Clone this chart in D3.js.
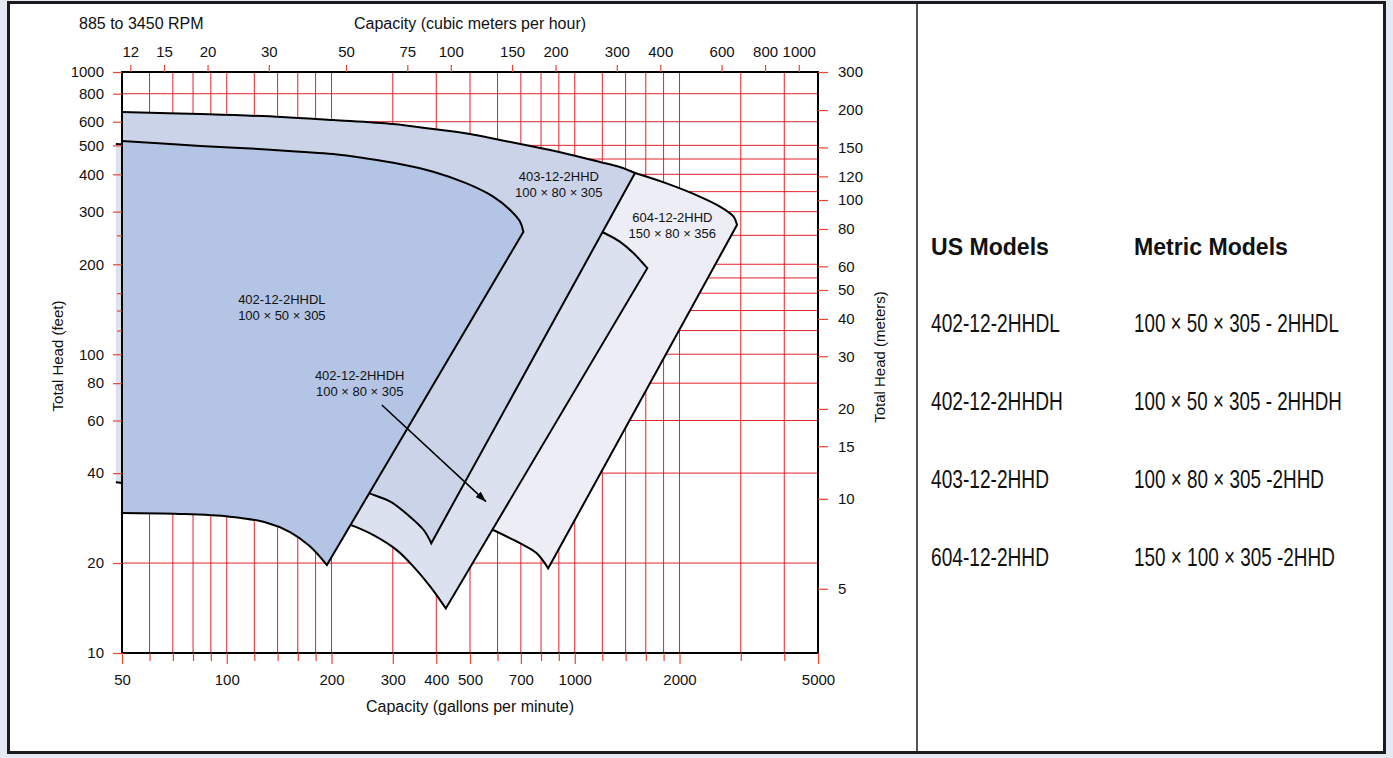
<!DOCTYPE html>
<html><head><meta charset="utf-8">
<script src="https://cdn.jsdelivr.net/npm/d3@7"></script>
<style>
html,body{margin:0;padding:0;background:#e4e9f3;}
svg{display:block;font-family:"Liberation Sans",Arial,Helvetica,sans-serif;}
</style></head><body>
<svg id="c" width="1393" height="758"></svg>
<script>
// ---------------- DATA ----------------
// x gridlines / ticks (gallons per minute)
const gpmGrid   = [60,70,80,90,100,120,140,160,180,200,300,400,500,600,700,800,900,1000,1200,1400,1600,1800,2000,3000,4000];
const gpmLabels = [50,100,200,300,400,500,700,1000,2000,5000];
// top axis (cubic meters per hour)
const m3hLabels = [12,15,20,30,50,75,100,150,200,300,400,600,800,1000];
// left axis (feet)
const ftLabels     = [1000,800,600,500,400,300,200,100,80,60,40,20,10];
const ftGrid       = [800,600,500,450,400,350,300,250,200,180,160,140,120,100,80,60,40,20];
const ftMinorTicks = [250,160,140,120];
// right axis (meters)
const mLabels = [300,200,150,120,100,80,60,50,40,30,20,15,10,5];

// performance envelopes: [gpm, feet]
const top402L    = [[50,517],[84,498],[117,488],[162,476],[202,468],[252,452],[314,433],[392,408],[489,373],[583,337],[652,304],[696,278],[712,257]];
const bottom402L = [[50,29.4],[73,29.2],[102,28.6],[129,27.4],[152,25.4],[173,22.8],[194,19.7]];

const top403     = [[50,663],[84,649],[144,630],[202,610],[300,589],[392,567],[500,546],[610,521],[795,490],[952,468],[1181,440],[1347,423],[1490,404]];
const bottom403  = [[50,51.6],[166,41.3],[257,34.2],[295,32.1],[336,28.6],[368,25.8],[387,23.3]];

const top402H    = [[48,505],[314,414],[908,292],[1220,254],[1347,238],[1474,218],[1616,194]];
const bottom402H = [[48,37.3],[84,34.6],[162,31.3],[228,26.8],[264,24.8],[308,22.1],[344,19.45],[384,16.7],[426,14.1]];

const top604     = [[1490,404],[1836,373],[2286,337],[2614,312],[2858,289],[2927,271]];
const bottom604  = [[583,25.8],[696,23.3],[776,21.6],[839,19.2]];
const hidden604  = [[696,130]];

// in-chart labels: [gpm, feet] anchor
const label402L = [144,152];
const label403  = [900,392];
const label604  = [1907,287];
const label402H = [241,85];
const arrow402H = [[279,67.6],[556,32.1]];

const usModels     = ["402-12-2HHDL","402-12-2HHDH","403-12-2HHD","604-12-2HHD"];
const metricModels = ["100 × 50 × 305 - 2HHDL","100 × 50 × 305 - 2HHDH","100 × 80 × 305 -2HHD","150 × 100 × 305 -2HHD"];

// ---------------- LAYOUT ----------------
const P = {l:122, t:72, r:818, b:653};
const GPM_PER_M3H = 4.4029, FT_PER_M = 3.2808;
const FT_TOP = 880, FT_BREAK = 600;
const gridColor = "#e4222b", tickColor = "#e8472f";
const FONT = '"Liberation Sans", Arial, Helvetica, sans-serif';
const NARROW = '"Liberation Sans Narrow","Arial Narrow","Liberation Sans",Arial,sans-serif';

const svg = d3.select("#c");

// frame
svg.append("rect").attr("x",8.5).attr("y",2.5).attr("width",1376).attr("height",750)
  .attr("fill","#fff").attr("stroke","#1c1c1c").attr("stroke-width",3);
svg.append("line").attr("x1",917).attr("x2",917).attr("y1",4).attr("y2",751)
  .attr("stroke","#555").attr("stroke-width",2);

// scales (the printed feet axis is compressed above 600 ft: piecewise log)
const x  = d3.scaleLog().domain([50,5000]).range([P.l,P.r]);
const yBase = d3.scaleLog().domain([10,FT_TOP]).range([P.b,P.t]);
const y  = d3.scaleLog().domain([10,FT_BREAK,1000]).range([P.b,yBase(FT_BREAK),P.t]).clamp(true);
const xm = d3.scaleLog().domain([50/GPM_PER_M3H,5000/GPM_PER_M3H]).range([P.l,P.r]);
const ym = d3.scaleLog().domain([10/FT_PER_M,FT_TOP/FT_PER_M]).range([P.b,P.t]).clamp(true);

// grid
const grid = svg.append("g").attr("stroke",gridColor).attr("stroke-width",1);
grid.selectAll(".v").data(gpmGrid).join("line")
  .attr("x1",d=>x(d)).attr("x2",d=>x(d)).attr("y1",P.t).attr("y2",P.b);
grid.selectAll(".h").data(ftGrid).join("line")
  .attr("y1",d=>y(d)).attr("y2",d=>y(d)).attr("x1",P.l).attr("x2",P.r);

// envelopes
const models = [
  {top:top604,  bottom:bottom604,  hidden:hidden604, fill:"#ecedf5"},
  {top:top402H, bottom:bottom402H, hidden:[],        fill:"#dce1f0"},
  {top:top403,  bottom:bottom403,  hidden:[],        fill:"#cbd3e8"},
  {top:top402L, bottom:bottom402L, hidden:[],        fill:"#b4c4e4"}
];
const curveGen = d3.line().x(d=>x(d[0])).y(d=>y(d[1])).curve(d3.curveCatmullRom.alpha(0.5));
function outline(m){
  const t = curveGen(m.top);
  const b = curveGen(m.bottom.slice().reverse());
  return t + "L" + b.slice(1);
}
const env = svg.append("g");
models.forEach(m=>{
  const closing = m.hidden.map(p=>"L"+x(p[0])+","+y(p[1])).join("");
  env.append("path").attr("d", outline(m)+closing+"Z").attr("fill",m.fill).attr("stroke","none");
  env.append("path").attr("d", outline(m)).attr("fill","none").attr("stroke","#000")
    .attr("stroke-width",2).attr("stroke-linejoin","miter");
});

// plot border
svg.append("rect").attr("x",P.l).attr("y",P.t).attr("width",P.r-P.l).attr("height",P.b-P.t)
  .attr("fill","none").attr("stroke","#000").attr("stroke-width",2);

// axes
function styleAxis(g){
  g.select(".domain").remove();
  g.attr("font-family",null).attr("font-size",null);
  g.selectAll("line").attr("stroke",tickColor).attr("stroke-width",1.2);
  g.selectAll("text").attr("fill","#111").style("font-family",FONT).style("font-size","15px");
}
const fmt = d3.format("d");
svg.append("g").attr("transform",`translate(${P.l},0)`)
  .call(d3.axisLeft(y).tickValues(ftLabels).tickFormat(fmt).tickSize(9).tickPadding(9)).call(styleAxis);
svg.append("g").attr("transform",`translate(${P.l},0)`)
  .call(d3.axisLeft(y).tickValues(ftMinorTicks).tickFormat("").tickSize(5)).call(styleAxis);
svg.append("g").attr("transform",`translate(${P.r},0)`)
  .call(d3.axisRight(ym).tickValues(mLabels).tickFormat(fmt).tickSize(10).tickPadding(10)).call(styleAxis);
svg.append("g").attr("transform",`translate(0,${P.b})`)
  .call(d3.axisBottom(x).tickValues(gpmLabels).tickFormat(fmt).tickSize(11).tickPadding(10)).call(styleAxis);
svg.append("g").attr("transform",`translate(0,${P.b})`)
  .call(d3.axisBottom(x).tickValues(gpmGrid.filter(v=>!gpmLabels.includes(v))).tickFormat("").tickSize(8)).call(styleAxis);
svg.append("g").attr("transform",`translate(0,${P.t})`)
  .call(d3.axisTop(xm).tickValues(m3hLabels).tickFormat(fmt).tickSize(7).tickPadding(8)).call(styleAxis);

// titles
svg.append("text").attr("x",79).attr("y",29).attr("font-size",16).attr("fill","#111").text("885 to 3450 RPM");
svg.append("text").attr("x",470).attr("y",29).attr("text-anchor","middle").attr("font-size",16).attr("fill","#111")
  .text("Capacity (cubic meters per hour)");
svg.append("text").attr("x",470).attr("y",712).attr("text-anchor","middle").attr("font-size",16).attr("fill","#111")
  .text("Capacity (gallons per minute)");
svg.append("text").attr("transform","translate(63,356) rotate(-90)").attr("text-anchor","middle")
  .attr("font-size",15).attr("fill","#111").text("Total Head (feet)");
svg.append("text").attr("transform","translate(885,357) rotate(-90)").attr("text-anchor","middle")
  .attr("font-size",15).attr("fill","#111").text("Total Head (meters)");

// in-chart labels
const labels = [
  [label402L,"402-12-2HHDL","100 × 50 × 305"],
  [label403, "403-12-2HHD", "100 × 80 × 305"],
  [label604, "604-12-2HHD", "150 × 80 × 356"],
  [label402H,"402-12-2HHDH","100 × 80 × 305"]
];
labels.forEach(([p,a,b])=>{
  const t = svg.append("text").attr("text-anchor","middle").attr("font-size",13).attr("fill","#111");
  t.append("tspan").attr("x",x(p[0])).attr("y",y(p[1])+4.5).text(a);
  t.append("tspan").attr("x",x(p[0])).attr("y",y(p[1])+20.5).text(b);
});

// arrow
const defs = svg.append("defs");
defs.append("marker").attr("id","ah").attr("viewBox","0 0 10 7").attr("refX",10).attr("refY",3.5)
  .attr("markerWidth",11).attr("markerHeight",7.5).attr("orient","auto").attr("markerUnits","userSpaceOnUse")
  .append("path").attr("d","M0,0L10,3.5L0,7Z").attr("fill","#000");
svg.append("line")
  .attr("x1",x(arrow402H[0][0])).attr("y1",y(arrow402H[0][1]))
  .attr("x2",x(arrow402H[1][0])).attr("y2",y(arrow402H[1][1]))
  .attr("stroke","#000").attr("stroke-width",1.6).attr("marker-end","url(#ah)");

// table (condensed type: squeeze each text horizontally to its printed width)
const tbl = svg.append("g");
function fitted(str, x0, y0, w, size, bold){
  const t = tbl.append("text").attr("x",0).attr("y",0).attr("font-size",size)
    .attr("font-weight",bold?"bold":"normal").style("font-family",NARROW).attr("fill","#111").text(str);
  const len = t.node().getComputedTextLength() || w;
  t.attr("transform",`translate(${x0},${y0}) scale(${w/len},1)`);
}
fitted("US Models", 931, 255, 118, 24, true);
fitted("Metric Models", 1134, 255, 154, 24, true);
const rowY = [332,410,487.5,566];
const usW = [129,132,118,118];
const mW = [205,208,190,201];
usModels.forEach((s,i)=>fitted(s, 931, rowY[i], usW[i], 25, false));
metricModels.forEach((s,i)=>fitted(s, 1134, rowY[i], mW[i], 25, false));
</script>
</body></html>
